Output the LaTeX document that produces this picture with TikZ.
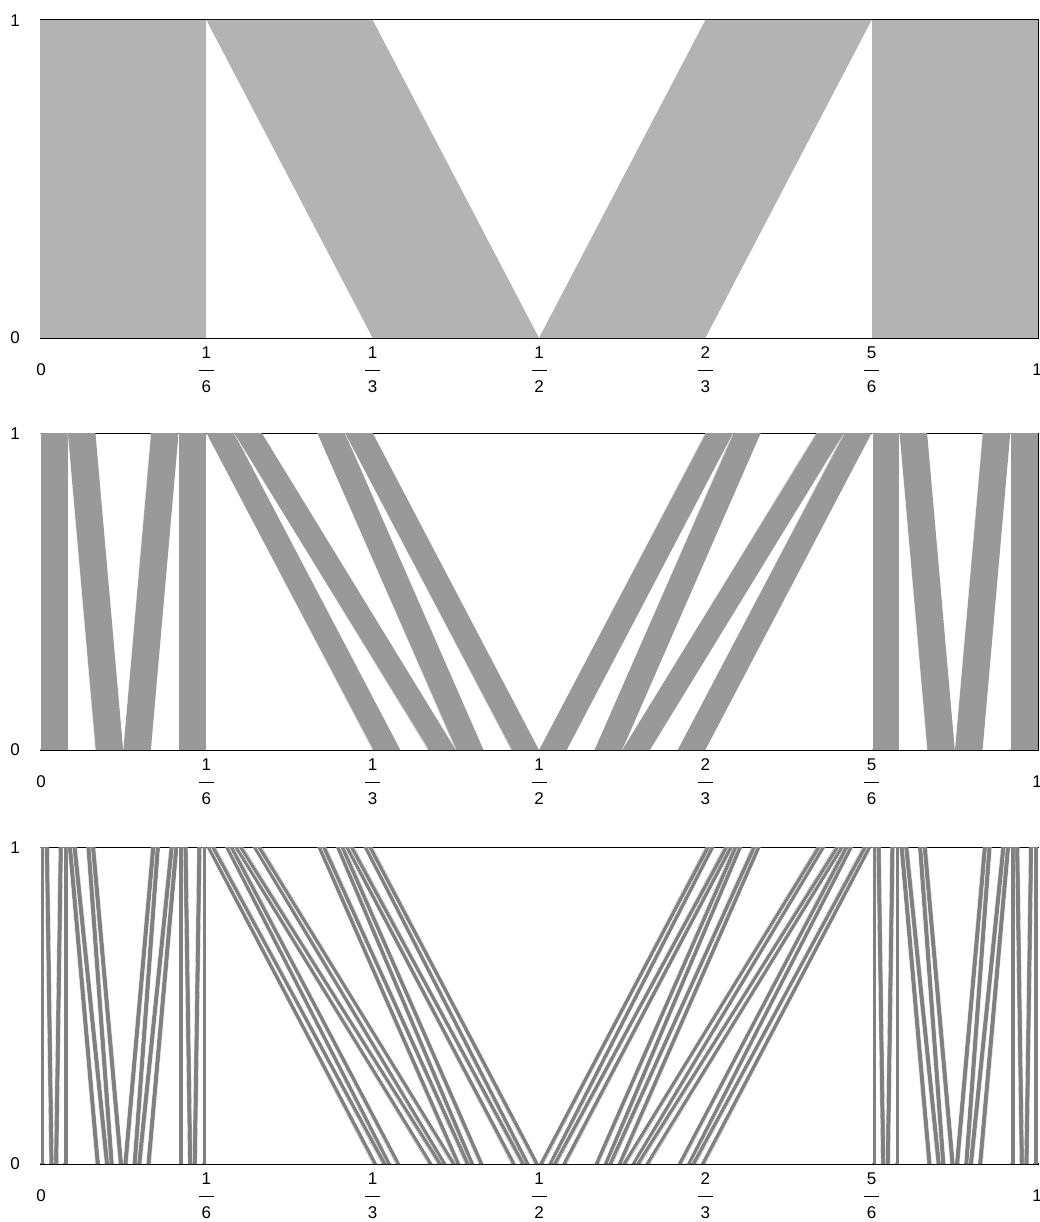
\documentclass[tikz,border=0pt]{standalone}
\usepackage{fontspec}
\setmainfont{Liberation Sans}
\definecolor{gA}{RGB}{179,179,179}
\definecolor{gB}{RGB}{153,153,153}
\definecolor{gC}{RGB}{128,128,128}
\tikzset{
  lbl/.style={inner sep=0pt, font=\fontsize{17}{19}\selectfont},
  frame/.style={draw=black, line width=1pt},
  seam/.style={draw=white, line width=0.25pt},
}
\begin{document}
\begin{tikzpicture}[x=1pt,y=-1pt]
\useasboundingbox (0,0) rectangle (1040,1222);
% frames
\foreach \t/\b/\n in {20/338/1,433/750/2,847/1164/3}{
  \draw[frame] (40,\t) rectangle (1038,\b);
}
% level 1
\foreach \a/\b in {0/0,1/2,4/3,5/5}{
  \fill[gA] ({40+998*\a/6},20) -- ({40+998*(\a+1)/6},20) -- ({40+998*(\b+1)/6},338) -- ({40+998*\b/6},338) -- cycle;
}
% level 2
\foreach \a/\b in {0/0,1/2,4/3,5/5}{
  \foreach \c/\d in {0/0,1/2,4/3,5/5}{
    \pgfmathsetmacro\tl{40+998*((6*\a+\c)/36)}
    \pgfmathsetmacro\tr{40+998*((6*\a+\c+1)/36)}
    \pgfmathsetmacro\bl{40+998*((6*\b+\d)/36)}
    \pgfmathsetmacro\br{40+998*((6*\b+\d+1)/36)}
    \fill[gB] (\tl,433) -- (\tr,433) -- (\br,750) -- (\bl,750) -- cycle;
    \draw[seam] (\tl,434) -- (\bl,749);
  }
}
% level 3
\foreach \a/\b in {0/0,1/2,4/3,5/5}{
  \foreach \c/\d in {0/0,1/2,4/3,5/5}{
    \foreach \e/\f in {0/0,1/2,4/3,5/5}{
      \pgfmathsetmacro\tl{40+998*((36*\a+6*\c+\e)/216)}
      \pgfmathsetmacro\tr{40+998*((36*\a+6*\c+\e+1)/216)}
      \pgfmathsetmacro\bl{40+998*((36*\b+6*\d+\f)/216)}
      \pgfmathsetmacro\br{40+998*((36*\b+6*\d+\f+1)/216)}
      \fill[gC] (\tl,847) -- (\tr,847) -- (\br,1164) -- (\bl,1164) -- cycle;
      \draw[seam, line width=0.3pt] (\tl,848) -- (\bl,1163);
      \draw[seam, line width=0.3pt] (\tr,848) -- (\br,1163);
    }
  }
}
% labels
\foreach \t/\b/\n in {20/338/1,433/750/2,847/1164/3}{
  \node[lbl] (ya\n) at (15,\t+1) {1};
  \node[lbl] (yb\n) at (15,\b) {0};
  \node[lbl] (xa\n) at (41,\b+32) {0};
  \node[lbl] (xb\n) at (1037,\b+32) {1};
  \foreach \k/\num/\den in {1/1/6,2/1/3,3/1/2,4/2/3,5/5/6}{
    \node[lbl] (n\n\k) at ({40+998*\k/6},\b+15) {\num};
    \node[inner sep=0pt] (r\n\k) at ({40+998*\k/6},\b+32) {\rule{15pt}{1pt}};
    \node[lbl] (d\n\k) at ({40+998*\k/6},\b+49) {\den};
  }
}
\end{tikzpicture}
\end{document}
